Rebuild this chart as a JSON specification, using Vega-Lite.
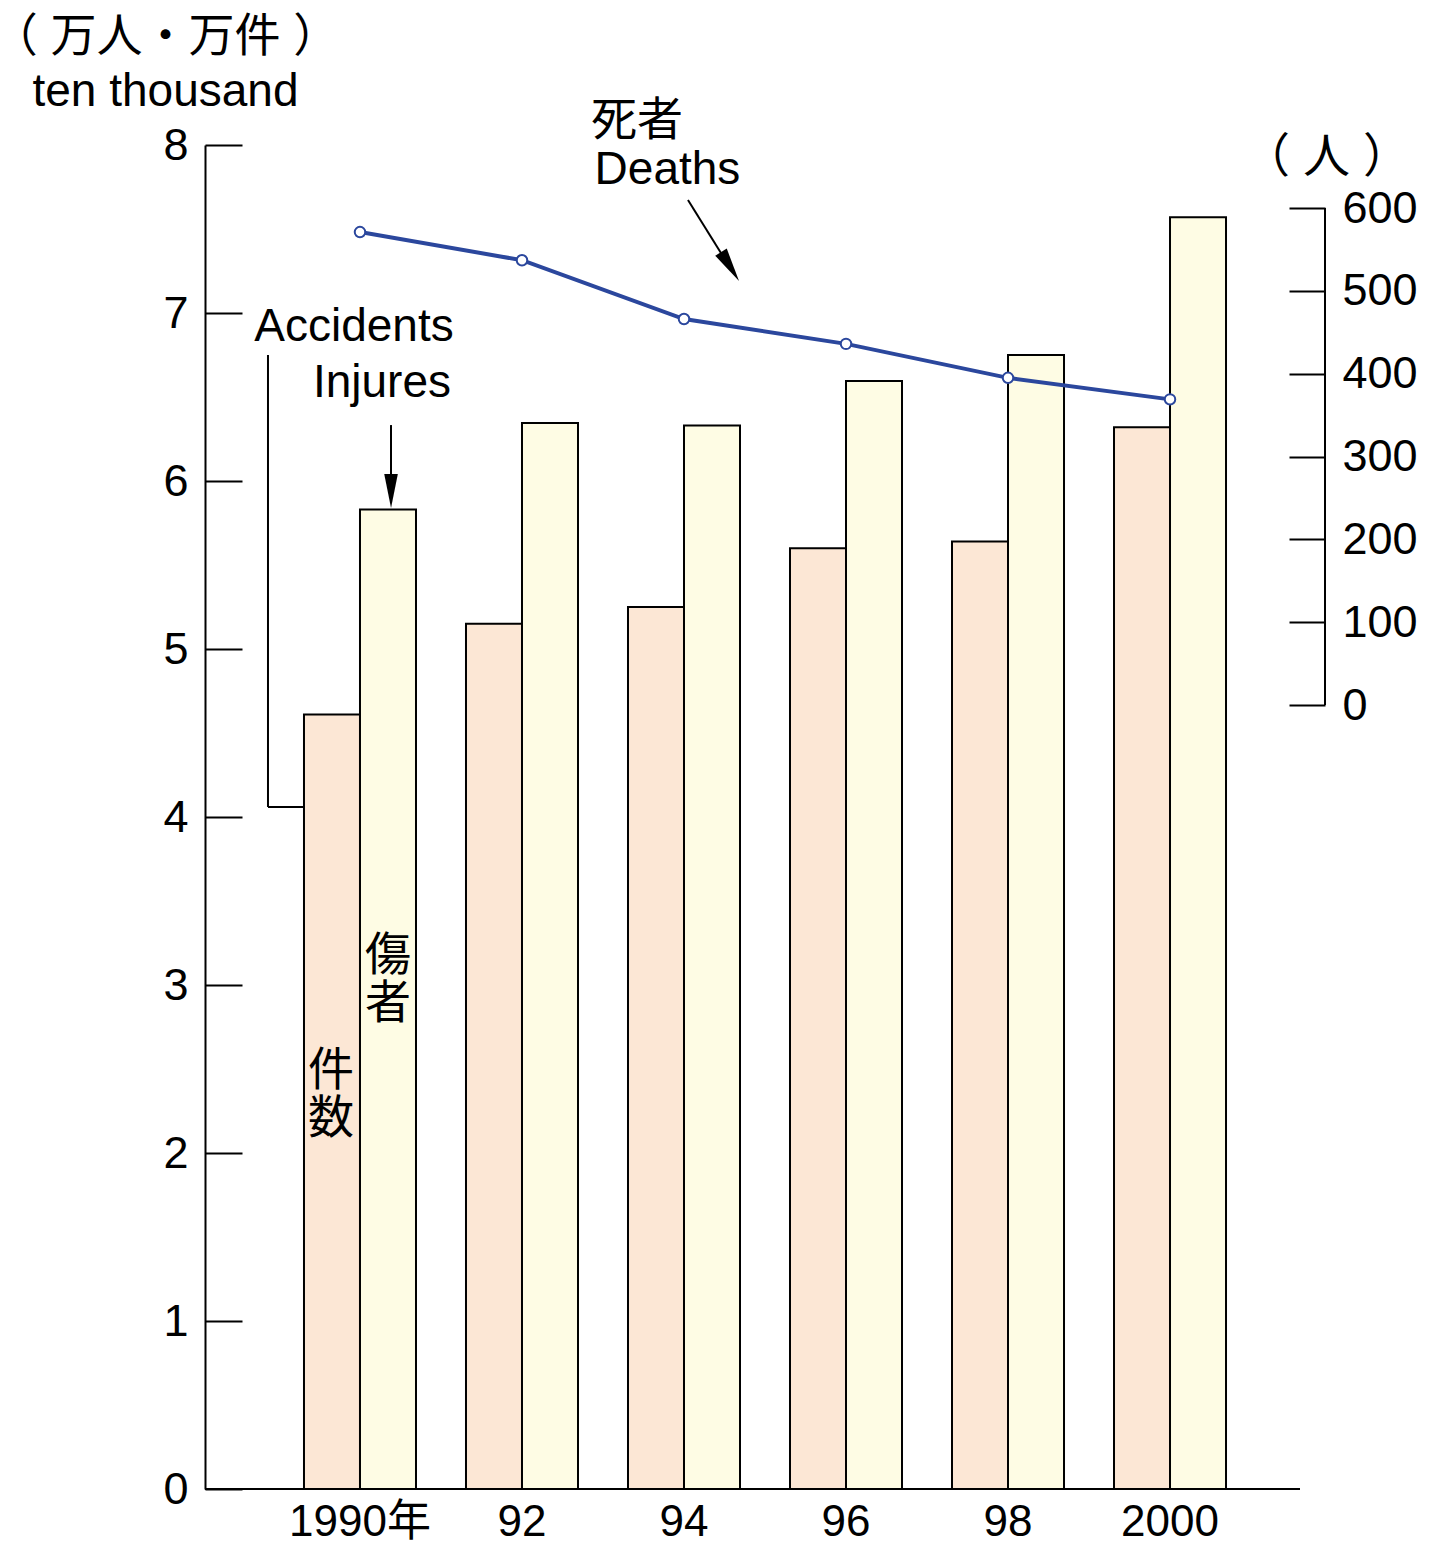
{
  "$schema": "https://vega.github.io/schema/vega-lite/v6.json",
  "width": 1120,
  "height": 1344,
  "autosize": {"type": "none"},
  "padding": {"left": 205, "top": 145, "right": 106, "bottom": 54},
  "background": "white",
  "config": {
    "font": "Liberation Sans, Noto Sans CJK JP",
    "view": {"stroke": null},
    "axis": {"grid": false}
  },
  "datasets": {
    "bars": [
      {"year": "1990年", "series": "件数", "value": 4.61},
      {"year": "1990年", "series": "傷者", "value": 5.83},
      {"year": "92", "series": "件数", "value": 5.15},
      {"year": "92", "series": "傷者", "value": 6.345},
      {"year": "94", "series": "件数", "value": 5.25},
      {"year": "94", "series": "傷者", "value": 6.33},
      {"year": "96", "series": "件数", "value": 5.6},
      {"year": "96", "series": "傷者", "value": 6.595},
      {"year": "98", "series": "件数", "value": 5.64},
      {"year": "98", "series": "傷者", "value": 6.75},
      {"year": "2000", "series": "件数", "value": 6.32},
      {"year": "2000", "series": "傷者", "value": 7.57}
    ],
    "deaths": [
      {"year": "1990年", "deaths": 571},
      {"year": "92", "deaths": 537},
      {"year": "94", "deaths": 466},
      {"year": "96", "deaths": 436},
      {"year": "98", "deaths": 395},
      {"year": "2000", "deaths": 369}
    ],
    "notes": [
      {"text": "Accidents", "x": 1989.926, "y": 6.917},
      {"text": "Injures", "x": 1990.271, "y": 6.583},
      {"text": "Deaths", "x": 1993.796, "y": 7.851},
      {"text": "死者", "x": 1993.42, "y": 8.143},
      {"text": "傷\n者", "x": 1990.346, "y": 3.173},
      {"text": "件\n数", "x": 1989.642, "y": 2.488}
    ],
    "leaders": [
      {"x": 1988.864, "y": 6.75, "x2": 1988.864, "y2": 4.06},
      {"x": 1988.864, "y": 4.06, "x2": 1989.309, "y2": 4.06},
      {"x": 1990.383, "y": 6.333, "x2": 1990.383, "y2": 6.0},
      {"x": 1994.049, "y": 7.673, "x2": 1994.53, "y2": 7.30},
      {"x": 1988.0864, "y": 0, "x2": 2001.605, "y2": 0}
    ],
    "heads": [
      {"x": 1990.383, "y": 5.94, "angle": 0},
      {"x": 1994.568, "y": 7.276, "angle": 328}
    ]
  },
  "layer": [
    {
      "data": {"name": "bars"},
      "mark": {"type": "bar", "stroke": "black", "strokeWidth": 2},
      "encoding": {
        "x": {
          "field": "year", "type": "nominal", "sort": null,
          "scale": {"type": "band", "paddingInner": 0.3086, "paddingOuter": 0.611},
          "axis": {
            "title": null, "domain": false, "ticks": false,
            "labelAngle": 0, "labelFontSize": 44, "labelColor": "black",
            "labelPadding": 11, "labelBaseline": "top"
          }
        },
        "xOffset": {
          "field": "series", "type": "nominal", "sort": ["件数", "傷者"],
          "scale": {"paddingInner": 0, "paddingOuter": 0}
        },
        "y": {
          "field": "value", "type": "quantitative",
          "scale": {"domain": [0, 8], "nice": false, "zero": true},
          "axis": {
            "orient": "left", "values": [0, 1, 2, 3, 4, 5, 6, 7, 8],
            "domainColor": "black", "domainWidth": 2,
            "tickColor": "black", "tickWidth": 2, "tickSize": -37,
            "labelPadding": 54, "labelFontSize": 45, "labelColor": "black",
            "title": ["（ 万人・万件 ）", "ten thousand"],
            "titleAngle": 0, "titleAlign": "center", "titleBaseline": "middle",
            "titleX": -40, "titleY": -109, "titleFontSize": 46,
            "titleFontWeight": "normal", "titleColor": "black", "titleLineHeight": 55
          }
        },
        "color": {
          "field": "series", "type": "nominal",
          "scale": {"domain": ["件数", "傷者"], "range": ["#fce7d5", "#fefce4"]},
          "legend": null
        }
      }
    },
    {
      "data": {"name": "deaths"},
      "mark": {
        "type": "line", "color": "#2b479d", "strokeWidth": 4,
        "point": {"filled": true, "fill": "white", "stroke": "#2b479d", "strokeWidth": 2, "size": 110, "opacity": 1}
      },
      "encoding": {
        "x": {
          "field": "year", "type": "nominal", "sort": null,
          "scale": {"type": "band", "paddingInner": 0.3086, "paddingOuter": 0.611},
          "axis": null
        },
        "y": {
          "field": "deaths", "type": "quantitative",
          "scale": {"domain": [-946.5, 676.1], "nice": false, "zero": false},
          "axis": {
            "orient": "right", "values": [0, 100, 200, 300, 400, 500, 600],
            "domain": false,
            "tickColor": "black", "tickWidth": 2, "tickSize": -36,
            "labelPadding": 53, "labelFontSize": 45, "labelColor": "black",
            "title": "（ 人 ）",
            "titleAngle": 0, "titleAlign": "center", "titleBaseline": "middle",
            "titleX": 1, "titleY": 12, "titleFontSize": 47,
            "titleFontWeight": "normal", "titleColor": "black"
          }
        }
      }
    },
    {
      "data": {"values": [{}]},
      "mark": {"type": "rule", "color": "black", "strokeWidth": 2},
      "encoding": {
        "x": {"value": "width"},
        "y": {"datum": 0, "type": "quantitative", "scale": {"domain": [-946.5, 676.1], "nice": false, "zero": false}, "axis": null},
        "y2": {"datum": 600}
      }
    },
    {
      "data": {"name": "leaders"},
      "mark": {"type": "rule", "color": "black", "strokeWidth": 2},
      "encoding": {
        "x": {"field": "x", "type": "quantitative", "scale": {"domain": [1988.0864, 2001.9136], "nice": false, "zero": false}, "axis": null},
        "x2": {"field": "x2"},
        "y": {"field": "y", "type": "quantitative", "scale": {"domain": [0, 8], "nice": false}, "axis": null},
        "y2": {"field": "y2"}
      }
    },
    {
      "data": {"name": "heads"},
      "mark": {"type": "point", "shape": "M0,1L-0.4,-1L0.4,-1Z", "filled": true, "color": "black", "opacity": 1, "size": 1156},
      "encoding": {
        "x": {"field": "x", "type": "quantitative", "scale": {"domain": [1988.0864, 2001.9136], "nice": false, "zero": false}, "axis": null},
        "y": {"field": "y", "type": "quantitative", "scale": {"domain": [0, 8], "nice": false}, "axis": null},
        "angle": {"field": "angle", "type": "quantitative", "scale": null}
      }
    },
    {
      "data": {"name": "notes"},
      "mark": {"type": "text", "fontSize": 46, "color": "black", "align": "center", "baseline": "middle", "lineBreak": "\n", "lineHeight": 48},
      "encoding": {
        "x": {"field": "x", "type": "quantitative", "scale": {"domain": [1988.0864, 2001.9136], "nice": false, "zero": false}, "axis": null},
        "y": {"field": "y", "type": "quantitative", "scale": {"domain": [0, 8], "nice": false}, "axis": null},
        "text": {"field": "text"}
      }
    }
  ],
  "resolve": {"scale": {"x": "independent", "y": "independent", "color": "independent"}}
}
